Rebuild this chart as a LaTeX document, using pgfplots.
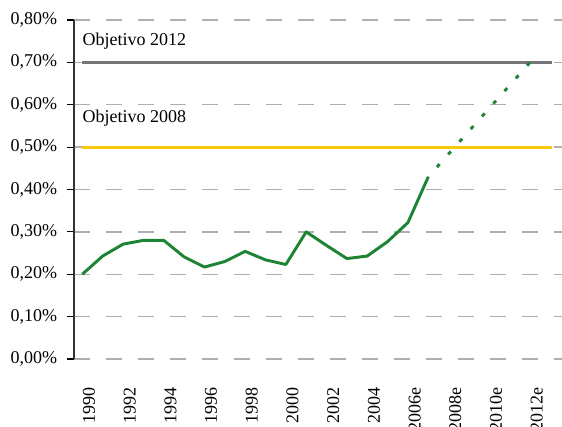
\documentclass[border=0pt]{standalone}
\usepackage{fontspec}
\setmainfont{Liberation Serif}
\usepackage{pgfplots}
\pgfplotsset{compat=1.18}
\definecolor{linegreen}{RGB}{30,132,52}
\definecolor{objgray}{RGB}{118,118,118}
\definecolor{objyellow}{RGB}{252,200,10}
\definecolor{gridgray}{RGB}{175,175,175}
\begin{document}
\begin{tikzpicture}
\useasboundingbox (0,0) rectangle (421.5pt,319.5pt);
\begin{axis}[
  at={(55.5pt,50.25pt)}, anchor=south west,
  scale only axis, width=366pt, height=254.25pt,
  xmin=1989.59, xmax=2013.57, ymin=0, ymax=0.8,
  axis y line*=left, axis x line*=bottom,
  x axis line style={draw=none},
  y axis line style={line width=1pt, black!80},
  xtick={1990,1992,...,2012},
  xticklabels={1990,1992,1994,1996,1998,2000,2002,2004,2006e,2008e,2010e,2012e},
  xtick style={draw=none},
  ytick={0,0.1,0.2,0.3,0.4,0.5,0.6,0.7,0.8},
  ymajorgrids,
  grid style={gridgray, line width=1.1pt, dash pattern=on 12pt off 12pt},
  ytick style={black, line width=0.8pt},
  tick align=outside, major tick length=5pt,
  yticklabel={\pgfmathprintnumber[fixed,fixed zerofill,precision=2,use comma,assume math mode=true]{\tick}\%},
  yticklabel style={anchor=east, inner sep=0pt, font=\fontsize{13.5}{16}\selectfont},
  yticklabel shift=7.4pt,
  xticklabel style={xshift=5pt, rotate=90, anchor=east, inner sep=0pt, font=\fontsize{13.5}{16}\selectfont},
  xticklabel shift=16.5pt,
  clip=false,
]
\addplot[objgray, line width=2.2pt] coordinates {(1990,0.7) (2013.1,0.7)};
\addplot[objyellow, line width=2.2pt] coordinates {(1990,0.5) (2013.1,0.5)};
\addplot[linegreen, line width=2.2pt, line join=round] coordinates {
(1990,0.200) (1991,0.243) (1992,0.271) (1993,0.280) (1994,0.280)
(1995,0.241) (1996,0.217) (1997,0.230) (1998,0.254) (1999,0.234)
(2000,0.223) (2001,0.300) (2002,0.268) (2003,0.237) (2004,0.243)
(2005,0.277) (2006,0.322) (2007,0.430)};
\addplot[linegreen, line width=2.2pt, dash pattern=on 3pt off 9.72pt, dash phase=2.98pt] coordinates {
(2007,0.430) (2008,0.484) (2009,0.538) (2010,0.592) (2011,0.646) (2012,0.700)};
\node[anchor=base west, inner sep=0pt, font=\fontsize{13.5}{16}\selectfont] at (axis cs:1990,0.739) {Objetivo 2012};
\node[anchor=base west, inner sep=0pt, font=\fontsize{13.5}{16}\selectfont] at (axis cs:1990,0.5586) {Objetivo 2008};
\end{axis}
\end{tikzpicture}
\end{document}
